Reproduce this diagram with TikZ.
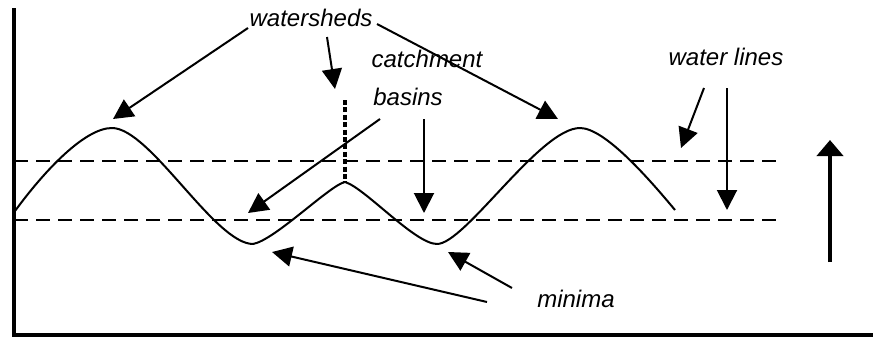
\documentclass[tikz,border=0pt]{standalone}
\usepackage{fontspec}
\setmainfont{Liberation Sans}
\usetikzlibrary{arrows.meta}
\begin{document}
\begin{tikzpicture}[x=0.5pt,y=-0.5pt,
  lbl/.style={anchor=base,inner sep=0pt,font=\fontsize{12}{14}\selectfont\itshape},
  ptr/.style={line width=1pt,-{Triangle[length=10pt,width=10pt]}},
  wline/.style={line width=1.4pt,dash pattern=on 7pt off 4pt},
  axis/.style={line width=2pt}]
\useasboundingbox (0,0) rectangle (873,337);
% axes
\coordinate (ytop) at (14,8);
\coordinate (orig) at (14,335);
\coordinate (xend) at (873,335);
\draw[axis] (ytop) -- (orig) -- (xend);
% water lines
\coordinate (w1a) at (14,161); \coordinate (w1b) at (778,161);
\coordinate (w2a) at (14,220); \coordinate (w2b) at (778,220);
\draw[wline] (w1a) -- (w1b);
\draw[wline] (w2a) -- (w2b);
% relief curve
\coordinate (c0) at (15,211);
\coordinate (p1) at (112,128);
\coordinate (m1) at (253,244);
\coordinate (p2) at (345,182);
\coordinate (m2) at (437,244);
\coordinate (p3) at (580,128);
\coordinate (c1) at (675,210);
\draw[line width=1pt,line join=round]
  (c0) .. controls (45,170) and (85,128) .. (p1)
       .. controls (150,128) and (215,244) .. (m1)
       .. controls (275,240) and (330,185) .. (p2)
       .. controls (365,188) and (415,244) .. (m2)
       .. controls (465,244) and (540,128) .. (p3)
       .. controls (605,128) and (650,180) .. (c1);
% dotted dam line
\coordinate (dtop) at (345,100);
\draw[line width=2pt,dash pattern=on 2.5pt off 1.2pt] (dtop) -- (p2);
% labels
\node[lbl] (ws) at (311,26) {watersheds};
\node[lbl] (catch) at (427,67) {catchment};
\node[lbl] (bas) at (408,105) {basins};
\node[lbl] (min) at (576,307) {minima};
\node[lbl] (wl) at (726,65) {water lines};
% watershed arrows
\coordinate (ws1s) at (248,28); \coordinate (ws1e) at (113,119);
\coordinate (ws2s) at (377,24); \coordinate (ws2e) at (558,119);
\coordinate (ws3s) at (327,37); \coordinate (ws3e) at (335,89);
\draw[ptr] (ws1s) -- (ws1e);
\draw[ptr] (ws2s) -- (ws2e);
\draw[ptr] (ws3s) -- (ws3e);
% basin arrows
\coordinate (b1s) at (380,119); \coordinate (b1e) at (248,213);
\coordinate (b2s) at (424,119); \coordinate (b2e) at (424,213);
\draw[ptr] (b1s) -- (b1e);
\draw[ptr] (b2s) -- (b2e);
% minima arrows
\coordinate (mi1s) at (487,302); \coordinate (mi1e) at (272,252);
\coordinate (mi2s) at (512,288); \coordinate (mi2e) at (448,252);
\draw[ptr] (mi1s) -- (mi1e);
\draw[ptr] (mi2s) -- (mi2e);
% water line arrows
\coordinate (wl1s) at (704,88); \coordinate (wl1e) at (681,148);
\coordinate (wl2s) at (727,88); \coordinate (wl2e) at (727,210);
\draw[ptr] (wl1s) -- (wl1e);
\draw[ptr] (wl2s) -- (wl2e);
% rising level arrow
\coordinate (ups) at (830,262); \coordinate (upe) at (830,140);
\draw[line width=2pt,-{Triangle[length=8pt,width=13pt]}] (ups) -- (upe);
\end{tikzpicture}
\end{document}
